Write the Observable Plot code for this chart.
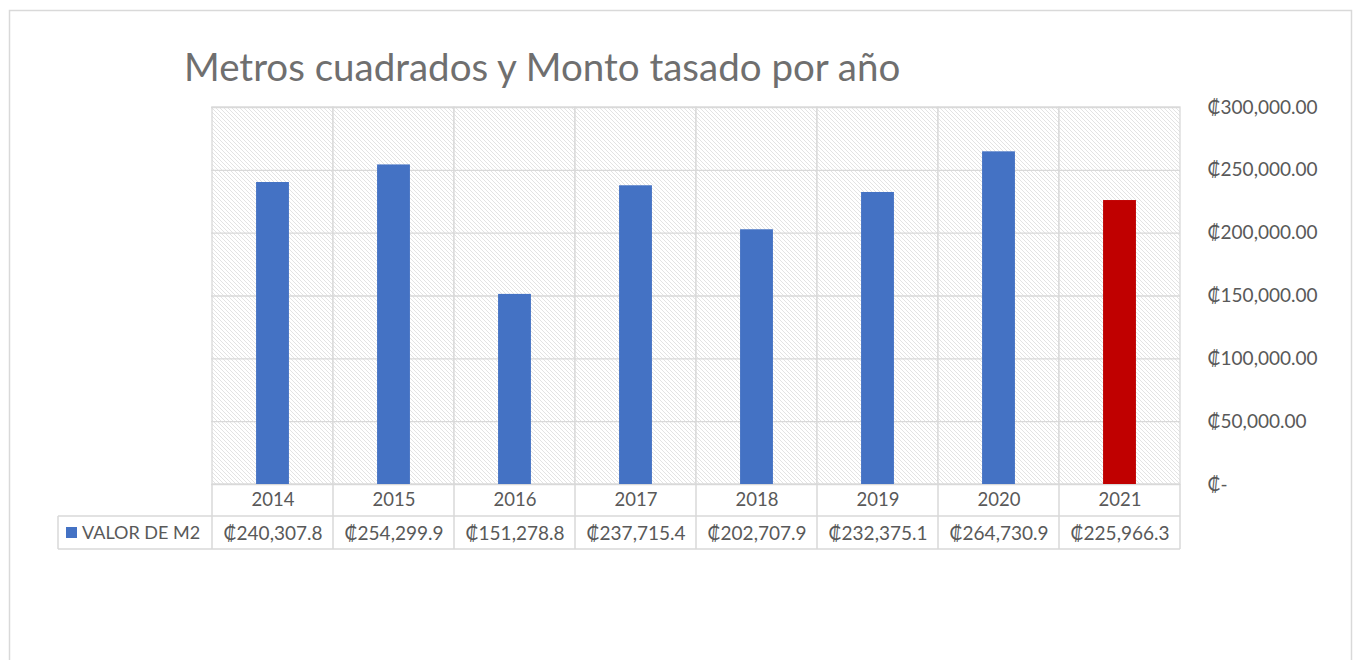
<!DOCTYPE html>
<html>
<head>
<meta charset="utf-8">
<script src="https://cdn.jsdelivr.net/npm/d3@7"></script>
<script src="https://cdn.jsdelivr.net/npm/@observablehq/plot@0.6"></script>
<style>
  html, body { margin: 0; padding: 0; background: #fff; }
  #chart svg { display: block; }
</style>
</head>
<body>
<div id="chart"></div>
<script>
const title = "Metros cuadrados y Monto tasado por año";
const years = ["2014", "2015", "2016", "2017", "2018", "2019", "2020", "2021"];
const values = [240307.8, 254299.9, 151278.8, 237715.4, 202707.9, 232375.1, 264730.9, 225966.3];
const highlightYear = "2021";
const seriesName = "VALOR DE M2";
const yTicks = [0, 50000, 100000, 150000, 200000, 250000, 300000];

const BLUE = "#4472C4", RED = "#C00000", GRID = "#d9d9d9", TEXT = "#595959";
const FONT = "Lato, 'Open Sans', sans-serif";

const data = years.map((year, i) => ({year, value: values[i]}));
const fmtTable = v => "₡" + d3.format(",.1f")(v);
const fmtAxis = v => v === 0 ? "₡-" : "₡" + d3.format(",.2f")(v);

const W = 1357, H = 660;
const mL = 211, mR = 177, mT = 107, mB = 176;
const step = (W - mL - mR) / years.length;
const barW = 33;
const inset = (step - barW) / 2;

const plot = Plot.plot({
  width: W,
  height: H,
  marginLeft: mL,
  marginRight: mR,
  marginTop: mT,
  marginBottom: mB,
  style: {fontFamily: FONT, color: TEXT, background: "#fff"},
  x: {domain: years, padding: 0, axis: null},
  y: {domain: [0, 300000], ticks: yTicks, axis: null},
  marks: [
    // hatched background cells with vertical borders
    Plot.barY(years, {x: d => d, y1: 0, y2: 300000, fill: "url(#hatch)", stroke: GRID, strokeWidth: 1.3}),
    Plot.ruleY(yTicks, {stroke: GRID, strokeWidth: 1.3}),
    Plot.barY(data, {x: "year", y: "value", insetLeft: inset, insetRight: inset,
      fill: d => d.year === highlightYear ? RED : BLUE}),
    Plot.axisY({anchor: "right", ticks: yTicks, tickSize: 0, tickPadding: 27, label: null,
      tickFormat: fmtAxis, fontSize: 19, fill: TEXT, textAnchor: "start"}),
    Plot.text(years, {x: d => d, frameAnchor: "bottom", dy: 16, lineAnchor: "middle",
      fontSize: 18.5, fill: TEXT}),
    Plot.text(data, {x: "year", text: d => fmtTable(d.value), frameAnchor: "bottom", dy: 49,
      lineAnchor: "middle", fontSize: 19, fill: TEXT})
  ]
});

document.getElementById("chart").appendChild(plot);

const svg = d3.select(plot);
const defs = svg.insert("defs", ":first-child");
const pat = defs.append("pattern").attr("id", "hatch").attr("patternUnits", "userSpaceOnUse")
  .attr("width", 4).attr("height", 4);
pat.append("rect").attr("width", 4).attr("height", 4).attr("fill", "#fff");
pat.append("path").attr("d", "M-1,-1L5,5M-1,3L1,5M3,-1L5,1")
  .attr("stroke", "#dedede").attr("stroke-width", 0.85);

// outer chart border
svg.append("rect").attr("x", 9.5).attr("y", 10.5).attr("width", 1342).attr("height", 700)
  .attr("fill", "none").attr("stroke", GRID).attr("stroke-width", 1.5);

// title
svg.append("text").attr("x", 184).attr("y", 81).attr("font-size", 38.5).attr("fill", "#6f6f6f")
  .attr("text-anchor", "start").attr("font-family", FONT).text(title);

// data table borders
const xs = plot.scale("x");
const bw = xs.bandwidth ?? step;
const right = xs.apply(years[years.length - 1]) + bw;
const y0 = mT + (H - mT - mB); // 484
const r1 = y0 + 32, r2 = y0 + 65;
const g = svg.append("g").attr("stroke", GRID).attr("stroke-width", 1.5).attr("fill", "none");
years.forEach(y => {
  const x = xs.apply(y);
  g.append("line").attr("x1", x).attr("x2", x).attr("y1", y0).attr("y2", r2);
});
g.append("line").attr("x1", right).attr("x2", right).attr("y1", y0).attr("y2", r2);
g.append("line").attr("x1", 58).attr("x2", 58).attr("y1", r1).attr("y2", r2);
g.append("line").attr("x1", 58).attr("x2", right).attr("y1", r1).attr("y2", r1);
g.append("line").attr("x1", 58).attr("x2", right).attr("y1", r2).attr("y2", r2);

// legend key in table
svg.append("rect").attr("x", 66).attr("y", r1 + 11).attr("width", 11).attr("height", 11).attr("fill", BLUE);
svg.append("text").attr("x", 82).attr("y", (r1 + r2) / 2).attr("dy", "0.35em")
  .attr("text-anchor", "start").attr("font-size", 18).attr("fill", TEXT)
  .attr("font-family", FONT).text(seriesName);
</script>
</body>
</html>
